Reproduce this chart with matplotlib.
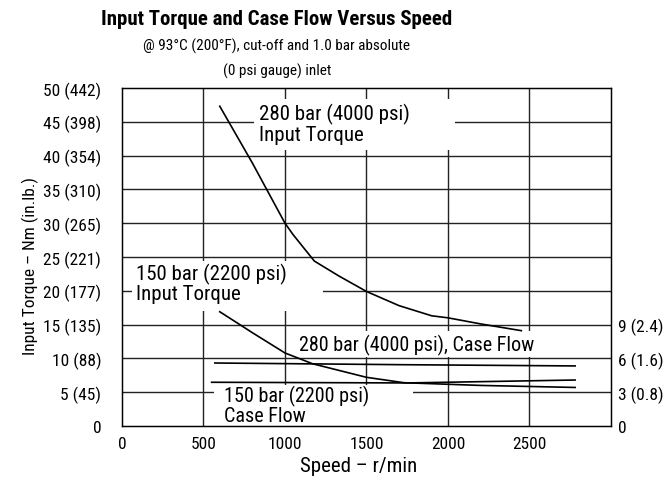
import matplotlib
matplotlib.use("Agg")
import matplotlib.pyplot as plt
from matplotlib import font_manager
from matplotlib.patches import Rectangle

# pick a condensed font, like the original
names = set(f.name for f in font_manager.fontManager.ttflist)
fam = 'DejaVu Sans'
for cand in ['Roboto Condensed', 'Archivo Narrow', 'PT Sans Narrow', 'Barlow Semi Condensed']:
    if cand in names:
        fam = cand
        break
plt.rcParams['font.family'] = [fam, 'DejaVu Sans']
if fam == 'DejaVu Sans':
    plt.rcParams['font.stretch'] = 'condensed'

# data
speed_t280 = [600, 800, 1000, 1050, 1180, 1330, 1500, 1700, 1900, 2000, 2200, 2450]
torque_280 = [47.3, 38.9, 30.0, 28.3, 24.4, 22.2, 19.9, 17.8, 16.3, 16.0, 15.1, 14.1]

speed_t150 = [600, 800, 1000, 1170, 1500, 1730, 2200, 2780]
torque_150 = [16.9, 13.8, 10.8, 9.2, 7.2, 6.4, 6.0, 5.7]

speed_f280 = [570, 1720, 2780]
flow_280 = [5.59, 5.44, 5.33]

speed_f150 = [550, 1750, 2780]
flow_150 = [3.88, 3.82, 4.08]

x_ticks = [0, 500, 1000, 1500, 2000, 2500]
y_ticks = [0, 5, 10, 15, 20, 25, 30, 35, 40, 45, 50]
y_labels = ['0', '5 (45)', '10 (88)', '15 (135)', '20 (177)', '25 (221)',
            '30 (265)', '35 (310)', '40 (354)', '45 (398)', '50 (442)']
y2_ticks = [0, 3, 6, 9]
y2_labels = ['0', '3 (0.8)', '6 (1.6)', '9 (2.4)']

fig = plt.figure(figsize=(6.72, 4.81), dpi=100)
ax = fig.add_axes([0.1815, 0.1123, 0.7277, 0.7027])
ax.set_xlim(0, 3000)
ax.set_ylim(0, 50)

for x in x_ticks[1:]:
    ax.axvline(x, color='#222222', lw=1.0, zorder=1)
for y in y_ticks[1:-1]:
    ax.axhline(y, color='#222222', lw=1.0, zorder=1)

# white areas behind the labels
for (x0, y0, w, h) in [(811, 40.8, 1230, 7.6), (61, 17.0, 1175, 7.4),
                       (1057, 10.2, 1508, 3.9), (566, 0.0, 1217, 6.05)]:
    ax.add_patch(Rectangle((x0, y0), w, h, facecolor='white', edgecolor='none', zorder=2))

ax.plot(speed_t280, torque_280, color='black', lw=1.2, zorder=3)
ax.plot(speed_t150, torque_150, color='black', lw=1.2, zorder=3)

ax.set_xticks(x_ticks)
ax.set_yticks(y_ticks)
ax.set_yticklabels(y_labels)
ax.tick_params(axis='y', length=0, pad=15, labelsize=12.5)
ax.tick_params(axis='x', length=0, pad=7, labelsize=12.5)
for s in ax.spines.values():
    s.set_linewidth(1.0)

ax2 = ax.twinx()
ax2.set_ylim(0, 30)
ax2.plot(speed_f280, flow_280, color='black', lw=1.2)
ax2.plot(speed_f150, flow_150, color='black', lw=1.2)
ax2.set_yticks(y2_ticks)
ax2.set_yticklabels(y2_labels)
ax2.tick_params(axis='y', length=0, pad=5, labelsize=12.5)

ax.text(842, 44.8, '280 bar (4000 psi)\nInput Torque', fontsize=15, va='center',
        linespacing=1.05, zorder=4)
ax.text(86, 21.1, '150 bar (2200 psi)\nInput Torque', fontsize=15, va='center',
        linespacing=1.0, zorder=4)
ax.text(1085, 12.1, '280 bar (4000 psi), Case Flow', fontsize=14.5, va='center', zorder=4)
ax.text(627, 3.1, '150 bar (2200 psi)\nCase Flow', fontsize=14.5, va='center',
        linespacing=1.0, zorder=4)

fig.text(0.411, 0.96, 'Input Torque and Case Flow Versus Speed', fontsize=15,
         fontweight='bold', ha='center', va='center')
fig.text(0.411, 0.904, '@ 93°C (200°F), cut-off and 1.0 bar absolute', fontsize=11,
         ha='center', va='center')
fig.text(0.413, 0.852, '(0 psi gauge) inlet', fontsize=11, ha='center', va='center')
fig.text(0.045, 0.447, 'Input Torque – Nm (in.lb.)', fontsize=12.5, rotation=90,
         ha='center', va='center')
fig.text(0.534, 0.03, 'Speed – r/min', fontsize=15, ha='center', va='center')

fig.savefig('out.png', dpi=100)
